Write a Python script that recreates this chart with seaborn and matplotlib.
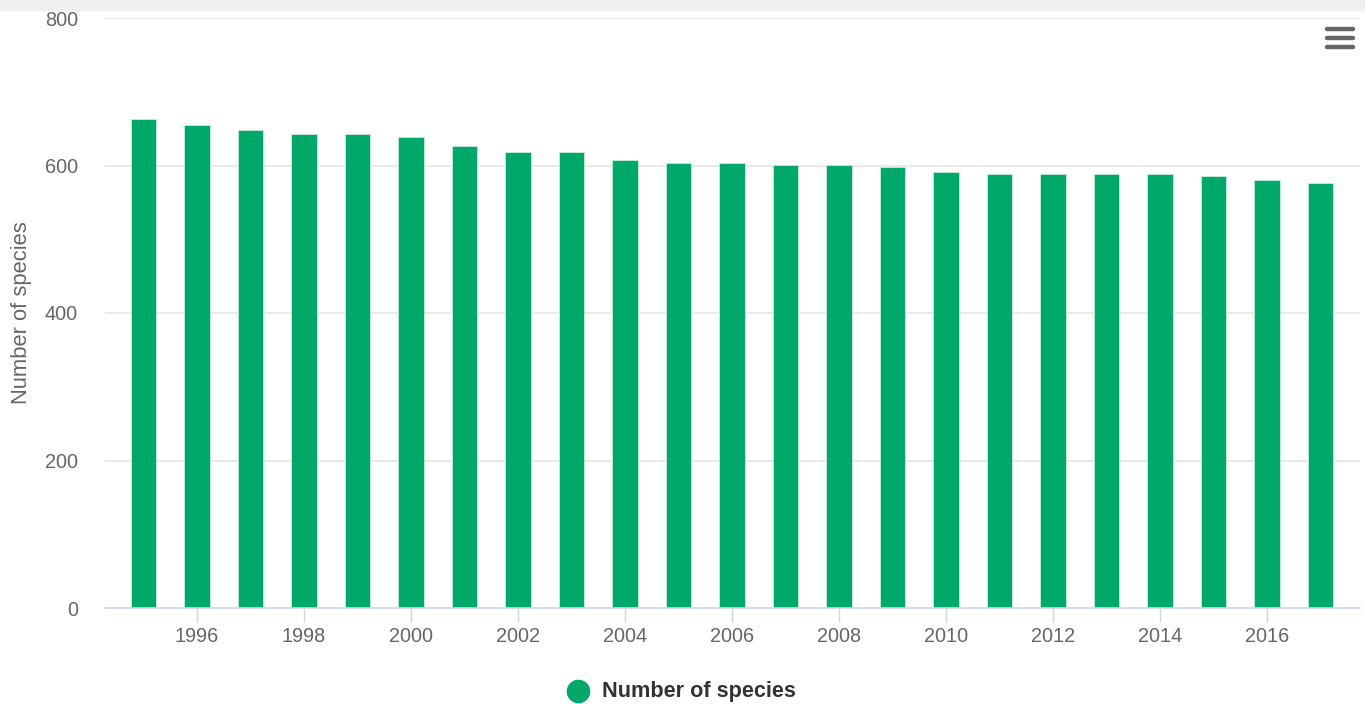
import matplotlib
matplotlib.use("Agg")
import matplotlib.pyplot as plt
from matplotlib.patches import Rectangle
from matplotlib.lines import Line2D
import seaborn as sns
import pandas as pd

years = list(range(1995, 2018))
species = [663, 655, 648, 643, 643, 638, 626, 618, 618, 608, 603, 603,
           601, 601, 598, 591, 588, 588, 588, 588, 586, 581, 576]
series_name = "Number of species"
y_ticks = [0, 200, 400, 600, 800]
x_ticks = list(range(1996, 2017, 2))

bar_color = "#00a96a"
df = pd.DataFrame({"year": years, "species": species})

sns.set_theme(style="white")
plt.rcParams["font.family"] = ["Liberation Sans", "DejaVu Sans"]

fig = plt.figure(figsize=(13.65, 7.04), dpi=100)
ax = fig.add_axes([105 / 1365, 1 - 608 / 704, (1360 - 105) / 1365, (608 - 18) / 704])

sns.barplot(data=df, x="year", y="species", native_scale=True, width=0.48,
            color=bar_color, saturation=1, edgecolor="#c8eedc", linewidth=0.6,
            ax=ax, zorder=3)

ax.set_xlim(1994.28, 2017.74)
ax.set_ylim(0, 800)
ax.set_yticks(y_ticks)
ax.set_yticklabels([str(v) for v in y_ticks])
ax.set_xticks(x_ticks)
ax.set_xticklabels([str(v) for v in x_ticks])

for v in y_ticks[1:]:
    ax.axhline(v, color="#e6e6e6", lw=1.2, zorder=1)

for s in ["top", "right", "left"]:
    ax.spines[s].set_visible(False)
ax.spines["bottom"].set_color("#ccd6eb")
ax.spines["bottom"].set_linewidth(1.2)
ax.spines["bottom"].set_zorder(4)

ax.tick_params(axis="x", length=10, width=1, color="#ccd6eb", pad=3.8,
               labelsize=14.3, labelcolor="#666666", direction="out", bottom=True)
ax.tick_params(axis="y", length=0, pad=19.5, labelsize=14.3, labelcolor="#666666")
ax.set_xlabel("")
ax.set_ylabel("Number of species", fontsize=15.8, color="#666666")
ax.yaxis.set_label_coords(-73 / 1255, 0.5)

# top grey strip
fig.patches.append(Rectangle((0, 1 - 10 / 704), 1, 10 / 704, transform=fig.transFigure,
                             color="#efefef", zorder=0))

# hamburger menu icon
for yy in [29, 38, 47]:
    y = 1 - yy / 704
    fig.lines.append(Line2D([1327 / 1365, 1353 / 1365], [y, y],
                            transform=fig.transFigure, color="#666666", lw=3.2,
                            solid_capstyle="round"))

# legend
leg_y = 1 - 691 / 704
fig.lines.append(Line2D([578 / 1365], [leg_y], transform=fig.transFigure, marker="o",
                        markersize=16, color=bar_color, linestyle="none"))
fig.text(602 / 1365, leg_y, series_name, fontsize=15.6, fontweight="bold",
         color="#333333", va="center", ha="left")

fig.savefig("out.png", dpi=100)
